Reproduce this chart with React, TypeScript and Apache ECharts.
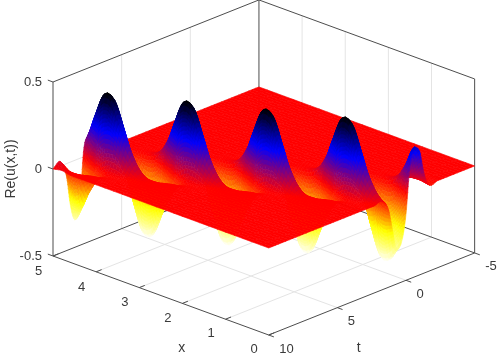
import React, { useEffect, useRef } from "react";
import * as echarts from "echarts";

const xSamples = [0,0.2,0.4,0.6,0.8,1,1.2,1.4,1.6,1.8,2,2.2,2.4,2.6,2.8,3,3.2,3.4,3.6,3.8,4,4.2,4.4,4.6,4.8,5];
const tSamples = [-5,-4.75,-4.5,-4.25,-4,-3.75,-3.5,-3.25,-3,-2.75,-2.5,-2.25,-2,-1.75,-1.5,-1.25,-1,-0.75,-0.5,-0.25,0,0.25,0.5,0.75,1,1.25,1.5,1.75,2,2.25,2.5,2.75,3,3.25,3.5,3.75,4,4.25,4.5,4.75,5,5.25,5.5,5.75,6,6.25,6.5,6.75,7,7.25,7.5,7.75,8,8.25,8.5,8.75,9,9.25,9.5,9.75,10];

// Re(u) x 100: [t, first x-sample index, values...]; anything not listed is 0
const surfaceRows: number[][] = [
  [-2,0,-1],
  [-1.75,0,-1,0],
  [-1.5,0,2,2,1],
  [-1.25,0,10,5,2],
  [-1,0,21,13,4,1],
  [-0.75,0,24,14,5,1,0],
  [-0.5,0,24,11,1,-2,-2,-1],
  [-0.25,0,12,0,-9,-10,-5,-2],
  [0,0,-12,-20,-26,-21,-13,-4,-1],
  [0.25,0,-25,-33,-35,-25,-14,-5,-1,0],
  [0.5,0,-30,-38,-39,-26,-11,-1,2,2,1],
  [0.75,0,-28,-34,-33,-18,0,9,10,5,2],
  [1,0,-17,-19,-13,4,20,26,21,13,4,1],
  [1.25,0,-6,-4,4,19,33,35,25,14,5,1,0],
  [1.5,0,-1,3,12,25,38,39,26,11,1,-2,-2,-1],
  [1.75,0,1,6,15,25,34,33,18,0,-9,-10,-5,-2],
  [2,0,1,4,10,17,19,13,-4,-20,-26,-21,-13,-4,-1],
  [2.25,1,1,4,6,4,-4,-19,-33,-35,-25,-14,-5,-1,0],
  [2.5,2,1,1,-3,-12,-25,-38,-39,-26,-11,-1,2,2,1],
  [2.75,2,0,-1,-6,-15,-25,-34,-33,-18,0,9,10,5,2],
  [3,3,-1,-4,-10,-17,-19,-13,4,20,26,21,13,4,1],
  [3.25,4,-1,-4,-6,-4,4,19,33,35,25,14,5,1,0],
  [3.5,5,-1,-1,3,12,25,38,39,26,11,1,-2,-2,-1],
  [3.75,5,0,1,6,15,25,34,33,18,0,-9,-10,-5,-2],
  [4,6,1,4,10,17,19,13,-4,-20,-26,-21,-13,-4,-1],
  [4.25,7,1,4,6,4,-4,-19,-33,-35,-25,-14,-5,-1,0],
  [4.5,8,1,1,-3,-12,-25,-38,-39,-26,-11,-1,2,2,1],
  [4.75,8,0,-1,-6,-15,-25,-34,-33,-18,0,9,10,5,2],
  [5,9,-1,-4,-10,-17,-19,-13,4,20,26,21,13,4,1],
  [5.25,10,-1,-4,-6,-4,4,19,33,35,25,14,5,1,0],
  [5.5,11,-1,-1,3,12,25,38,39,26,11,1,-2,-2,-1],
  [5.75,11,0,1,6,15,25,34,33,18,0,-9,-10,-5,-2],
  [6,12,1,4,10,17,19,13,-4,-20,-26,-21,-13,-4,-1],
  [6.25,13,1,4,6,4,-4,-19,-33,-35,-25,-14,-5,-1,0],
  [6.5,14,1,1,-3,-12,-25,-38,-39,-26,-11,-1,2,2],
  [6.75,14,0,-1,-6,-15,-25,-34,-33,-18,0,9,10,5],
  [7,15,-1,-4,-10,-17,-19,-13,4,20,26,21,13],
  [7.25,16,-1,-4,-6,-4,4,19,33,35,25,14],
  [7.5,17,-1,-1,3,12,25,38,39,26,11],
  [7.75,17,0,1,6,15,25,34,33,18,5],
  [8,18,1,4,10,17,19,13,-4,-20],
  [8.25,19,1,4,6,4,-4,-19,-33],
  [8.5,20,1,1,-3,-12,-25,-33],
  [8.75,20,0,-1,-6,-15,-25,-24],
  [9,21,-1,-4,-10,-17,-8],
  [9.25,22,-1,-4,-4,-1],
  [9.5,23,-1,-1,3],
  [9.75,23,0,1,2],
  [10,24,1,0],
];

const xTicks = [0, 1, 2, 3, 4, 5];
const tTicks = [-5, 0, 5, 10];
const zTicks = [-0.5, 0, 0.5];
const zLabels = ["-0.5", "0", "0.5"];
const colorStops: [number, number[]][] = [
  [-0.4, [255, 255, 255]],
  [-0.2, [255, 255, 0]],
  [0, [255, 0, 0]],
  [0.2, [0, 0, 255]],
  [0.4, [0, 0, 0]],
];

// oblique view of the 3D box, mapped into the hidden value axes
function project(x: number, t: number, z: number): number[] {
  return [
    268.7 - 43.14 * x - 13.73 * (t - 10),
    335 - 15.8 * x + 5.47 * (t - 10) - 174 * (z + 0.5),
  ];
}

const grid: number[][] = tSamples.map(() => xSamples.map(() => 0));
surfaceRows.forEach((row) => {
  const it = tSamples.indexOf(row[0]);
  for (let k = 2; k < row.length; k++) grid[it][row[1] + k - 2] = row[k] / 100;
});

function colorOf(z: number): string {
  const s = colorStops;
  if (z <= s[0][0]) return "rgb(255,255,255)";
  for (let i = 1; i < s.length; i++) {
    if (z <= s[i][0]) {
      const f = (z - s[i - 1][0]) / (s[i][0] - s[i - 1][0]);
      const c = s[i - 1][1].map((v, n) => Math.round(v + (s[i][1][n] - v) * f));
      return `rgb(${c[0]},${c[1]},${c[2]})`;
    }
  }
  return "rgb(0,0,0)";
}

function cr(a: number, b: number, c: number, d: number, f: number): number {
  return b + 0.5 * f * (c - a + f * (2 * a - 5 * b + 4 * c - d + f * (3 * (b - c) + d - a)));
}
const g = (it: number, ix: number) =>
  grid[Math.max(0, Math.min(tSamples.length - 1, it))][Math.max(0, Math.min(xSamples.length - 1, ix))];
// surface height inside a face (smooth shading of the sampled table)
function zAt(it: number, ft: number, ix: number, fx: number): number {
  const col = [-1, 0, 1, 2].map((d) =>
    cr(g(it + d, ix - 1), g(it + d, ix), g(it + d, ix + 1), g(it + d, ix + 2), fx)
  );
  return cr(col[0], col[1], col[2], col[3], ft);
}

const cells: number[][] = [];
for (let ix = xSamples.length - 2; ix >= 0; ix--) {
  for (let it = 0; it < tSamples.length - 1; it++) cells.push([ix, it]);
}

function isFlat(ix: number, it: number): boolean {
  for (let a = -1; a <= 2; a++) for (let b = -1; b <= 2; b++) if (g(it + a, ix + b) !== 0) return false;
  return true;
}

const renderSurface = (_: any, api: any) => {
  const ix = api.value(0);
  const it = api.value(1);
  const x0 = xSamples[ix], x1 = xSamples[ix + 1];
  const t0 = tSamples[it], t1 = tSamples[it + 1];
  const P = (x: number, t: number, z: number) => api.coord(project(x, t, z));
  if (isFlat(ix, it)) {
    return {
      type: "polygon",
      shape: { points: [P(x0, t0, 0), P(x1, t0, 0), P(x1, t1, 0), P(x0, t1, 0)] },
      style: { fill: "rgb(255,0,0)", stroke: "rgb(255,0,0)", lineWidth: 0.6 },
    };
  }
  const dT = Math.max(Math.abs(g(it, ix) - g(it + 1, ix)), Math.abs(g(it, ix + 1) - g(it + 1, ix + 1)));
  const dX = Math.max(Math.abs(g(it, ix) - g(it, ix + 1)), Math.abs(g(it + 1, ix) - g(it + 1, ix + 1)));
  const nt = Math.max(2, Math.min(8, Math.ceil(dT / 0.025)));
  const nx = Math.max(3, Math.min(8, Math.ceil(dX / 0.025)));
  const children: any[] = [];
  // far to near inside the face as well
  for (let a = nx - 1; a >= 0; a--) {
    for (let b = 0; b < nt; b++) {
      const fa0 = a / nx, fa1 = (a + 1) / nx, fb0 = b / nt, fb1 = (b + 1) / nt;
      const z00 = zAt(it, fb0, ix, fa0), z10 = zAt(it, fb0, ix, fa1);
      const z01 = zAt(it, fb1, ix, fa0), z11 = zAt(it, fb1, ix, fa1);
      const xa = x0 + (x1 - x0) * fa0, xb = x0 + (x1 - x0) * fa1;
      const ta = t0 + (t1 - t0) * fb0, tb = t0 + (t1 - t0) * fb1;
      const c = colorOf((z00 + z10 + z01 + z11) / 4);
      children.push({
        type: "polygon",
        shape: { points: [P(xa, ta, z00), P(xb, ta, z10), P(xb, tb, z11), P(xa, tb, z01)] },
        style: { fill: c, stroke: c, lineWidth: 0.6 },
      });
    }
  }
  return { type: "group", children };
};

const AXIS = "#4d4d4d";
const GRID = "#e4e4e4";
const TEXT = "#3a3a3a";
const FONT = '13px "Liberation Sans", Arial, sans-serif';
const FONT_T = '14px "Liberation Sans", Arial, sans-serif';

const renderFrame = (_: any, api: any) => {
  const P = (x: number, t: number, z: number) => api.coord(project(x, t, z));
  const line = (a: number[], b: number[], stroke: string) => ({
    type: "line",
    shape: { x1: a[0], y1: a[1], x2: b[0], y2: b[1] },
    style: { stroke, lineWidth: 1 },
  });
  const text = (s: string, p: number[], align: string, font = FONT) => ({
    type: "text",
    style: { text: s, x: p[0], y: p[1], align, verticalAlign: "middle", fill: TEXT, font },
  });
  const c: any[] = [];
  // grid lines on the two back walls and on the floor
  xTicks.slice(1, -1).forEach((x) => {
    c.push(line(P(x, -5, -0.5), P(x, -5, 0.5), GRID));
    c.push(line(P(x, -5, -0.5), P(x, 10, -0.5), GRID));
  });
  tTicks.slice(1, -1).forEach((t) => {
    c.push(line(P(5, t, -0.5), P(5, t, 0.5), GRID));
    c.push(line(P(0, t, -0.5), P(5, t, -0.5), GRID));
  });
  c.push(line(P(5, 10, 0), P(5, -5, 0), GRID));
  c.push(line(P(5, -5, 0), P(0, -5, 0), GRID));
  // box
  c.push(line(P(5, 10, -0.5), P(5, 10, 0.5), AXIS));
  c.push(line(P(5, 10, 0.5), P(5, -5, 0.5), AXIS));
  c.push(line(P(5, -5, 0.5), P(0, -5, 0.5), AXIS));
  c.push(line(P(0, -5, 0.5), P(0, -5, -0.5), AXIS));
  c.push(line(P(5, -5, 0.5), P(5, -5, -0.5), AXIS));
  c.push(line(P(5, 10, -0.5), P(5, -5, -0.5), AXIS));
  c.push(line(P(5, -5, -0.5), P(0, -5, -0.5), AXIS));
  c.push(line(P(5, 10, -0.5), P(0, 10, -0.5), AXIS));
  c.push(line(P(0, 10, -0.5), P(0, -5, -0.5), AXIS));
  // ticks and labels
  zTicks.forEach((z, i) => {
    c.push(line(P(5, 10, z), P(5.12, 10, z), AXIS));
    const p = P(5, 10, z);
    c.push(text(zLabels[i], [p[0] - 11, p[1] - 1], "right"));
  });
  xTicks.forEach((x) => {
    c.push(line(P(x, 10, -0.5), P(x, 9.6, -0.5), AXIS));
    const p = P(x, 10, -0.5);
    c.push(text(String(x), [p[0] - 14.5, p[1] + 13 + 0.3 * x], "center"));
  });
  tTicks.forEach((t) => {
    c.push(line(P(0, t, -0.5), P(-0.12, t, -0.5), AXIS));
    const p = P(0, t, -0.5);
    c.push(text(String(t), [p[0] + 10.5, p[1] + 13], "left"));
  });
  c.push(text("x", api.coord([181.7, 347]), "center", FONT_T));
  c.push(text("t", api.coord([358.7, 347]), "center", FONT_T));
  const yl = api.coord([9.5, 169]);
  c.push({
    type: "text",
    x: yl[0],
    y: yl[1],
    rotation: Math.PI / 2,
    style: { text: "Re(u(x,t))", x: 0, y: 0, align: "center", verticalAlign: "middle", fill: TEXT, font: FONT_T },
  });
  return { type: "group", children: c };
};

export default function App() {
  const ref = useRef<HTMLDivElement>(null);
  useEffect(() => {
    const chart = echarts.init(ref.current!, undefined, { renderer: "svg" });
    chart.setOption({
      animation: false,
      backgroundColor: "#ffffff",
      grid: { left: 0, right: 0, top: 0, bottom: 0 },
      xAxis: { type: "value", min: 0, max: 498, show: false },
      yAxis: { type: "value", min: 0, max: 355, inverse: true, show: false },
      series: [
        { type: "custom", silent: true, clip: false, z: 1, renderItem: renderFrame, data: [[0, 0]] },
        { type: "custom", silent: true, clip: false, z: 2, renderItem: renderSurface, data: cells, progressive: 0 },
      ],
    });
    return () => chart.dispose();
  }, []);
  return <div ref={ref} style={{ position: "absolute", left: 0, top: 0, width: 498, height: 355, filter: "blur(0.35px)" }} />;
}
